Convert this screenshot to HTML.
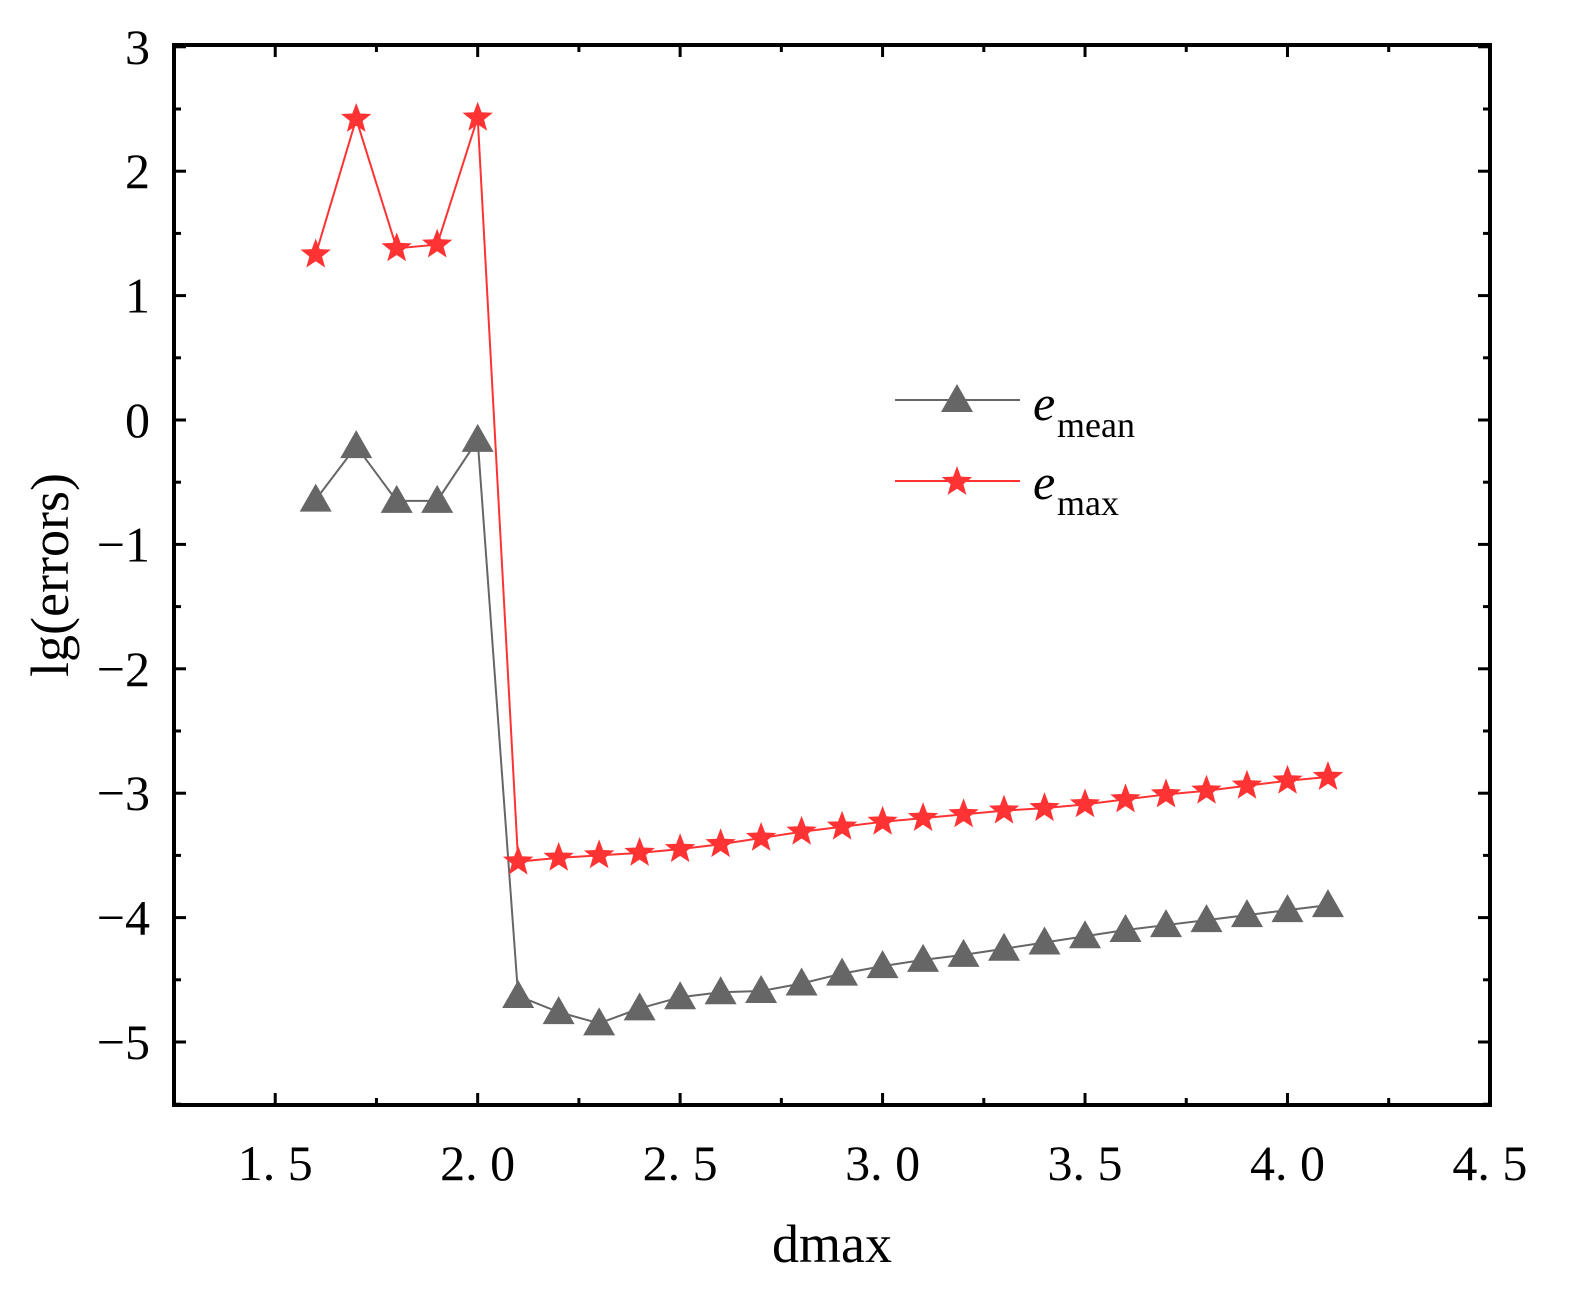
<!DOCTYPE html>
<html><head><meta charset="utf-8"><style>
body{margin:0;background:#fff}
svg text{font-family:"Liberation Serif","Noto Serif CJK SC",serif;fill:#000}
</style></head><body>
<svg id="chart" width="1584" height="1304" xmlns="http://www.w3.org/2000/svg">
<g id="grid"></g>
<g id="series"></g>
<rect x="174" y="45" width="1316" height="1060" fill="none" stroke="#000" stroke-width="4"/>
<text x="832" y="1262" font-size="54" text-anchor="middle">dmax</text>
<text transform="translate(68,575) rotate(-90)" font-size="54" text-anchor="middle">lg(errors)</text>
<g>
<g>
<line x1="895" y1="400" x2="1020" y2="400" stroke="#666" stroke-width="2"/>
<polygon points="957,384 973,412 941,412" fill="#666"/>
<text x="1033" y="420" font-size="50" font-style="italic">e</text><text x="1057" y="437" font-size="36">mean</text>
</g>
<g>
<line x1="895" y1="481" x2="1020" y2="481" stroke="#f33" stroke-width="2"/>
<polygon id="legstar" fill="#f33"/>
<text x="1033" y="499" font-size="50" font-style="italic">e</text><text x="1057" y="515" font-size="36">max</text>
</g>
</g>
</svg>
<script>
const xVals=[1.6,1.7,1.8,1.9,2.0,2.1,2.2,2.3,2.4,2.5,2.6,2.7,2.8,2.9,3.0,3.1,3.2,3.3,3.4,3.5,3.6,3.7,3.8,3.9,4.0,4.1];
const eMax=[1.33,2.42,1.38,1.41,2.43,-3.55,-3.52,-3.5,-3.48,-3.45,-3.41,-3.36,-3.31,-3.27,-3.23,-3.2,-3.17,-3.14,-3.12,-3.09,-3.05,-3.01,-2.98,-2.94,-2.9,-2.87];
const eMean=[-0.64,-0.21,-0.65,-0.65,-0.16,-4.63,-4.76,-4.85,-4.73,-4.64,-4.6,-4.59,-4.53,-4.45,-4.39,-4.34,-4.3,-4.25,-4.2,-4.15,-4.1,-4.06,-4.02,-3.98,-3.94,-3.9];
const xTicks=[1.5,2.0,2.5,3.0,3.5,4.0,4.5];
const xTickLabels=["1. 5","2. 0","2. 5","3. 0","3. 5","4. 0","4. 5"];
const yTicks=[3,2,1,0,-1,-2,-3,-4,-5];
const yTickLabels=["3","2","1","0","\u22121","\u22122","\u22123","\u22124","\u22125"];
const NS="http://www.w3.org/2000/svg";
const X=v=>174+(v-1.25)*404.9;
const Y=v=>420-v*124.4;
function mk(t,a,p){const e=document.createElementNS(NS,t);for(const k in a)e.setAttribute(k,a[k]);p.appendChild(e);return e;}
const g=document.getElementById('grid'),s=document.getElementById('series');
xTicks.forEach((v,i)=>{
 const x=X(v);
 const t=mk('line',{x1:x,y1:1105,x2:x,y2:1093,stroke:'#000','stroke-width':3},g);
 
 
 const t2=mk('line',{x1:x,y1:45,x2:x,y2:57,stroke:'#000','stroke-width':3},g);
 
 
 const l=mk('text',{x:x,y:1180,'font-size':50,'text-anchor':'middle'},g);l.textContent=xTickLabels[i];
 
 
 if(i<xTicks.length-1){const m=X(v+0.25);
  mk('line',{x1:m,y1:1105,x2:m,y2:1098,stroke:'#000','stroke-width':3},g);
  mk('line',{x1:m,y1:45,x2:m,y2:52,stroke:'#000','stroke-width':3},g);}
});
yTicks.forEach((v,i)=>{
 const y=Y(v);
 const t=mk('line',{x1:174,y1:y,x2:186,y2:y,stroke:'#000','stroke-width':3},g);
 
 
 mk('line',{x1:1490,y1:y,x2:1478,y2:y,stroke:'#000','stroke-width':3},g);
 const l=mk('text',{x:150,y:y+17,'font-size':50,'text-anchor':'end'},g);l.textContent=yTickLabels[i];
 
 
 const mv=v-0.5; if(mv>=-5.5){const my=Y(mv);
  mk('line',{x1:174,y1:my,x2:181,y2:my,stroke:'#000','stroke-width':3},g);
  mk('line',{x1:1490,y1:my,x2:1483,y2:my,stroke:'#000','stroke-width':3},g);}
});
function star(cx,cy,R){let p=[];for(let k=0;k<10;k++){const r=k%2?R*0.42:R;const a=-Math.PI/2+k*Math.PI/5;p.push((cx+r*Math.cos(a)).toFixed(1)+','+(cy+r*Math.sin(a)).toFixed(1));}return p.join(' ');}
document.getElementById('legstar').setAttribute('points',star(957,482,16));
const lm=mk('polyline',{points:xVals.map((x,i)=>X(x)+','+Y(eMean[i])).join(' '),fill:'none',stroke:'#666','stroke-width':2},s);


const lx=mk('polyline',{points:xVals.map((x,i)=>X(x)+','+Y(eMax[i])).join(' '),fill:'none',stroke:'#f33','stroke-width':2},s);


xVals.forEach((x,i)=>{
 const cx=X(x),cy=Y(eMean[i]);
 const p=mk('polygon',{points:`${cx},${cy-16} ${cx+16},${cy+12} ${cx-16},${cy+12}`,fill:'#666'},s);
 
 
});
xVals.forEach((x,i)=>{
 const p=mk('polygon',{points:star(X(x),Y(eMax[i]),16),fill:'#f33'},s);
 
 
});
</script>
</body></html>
